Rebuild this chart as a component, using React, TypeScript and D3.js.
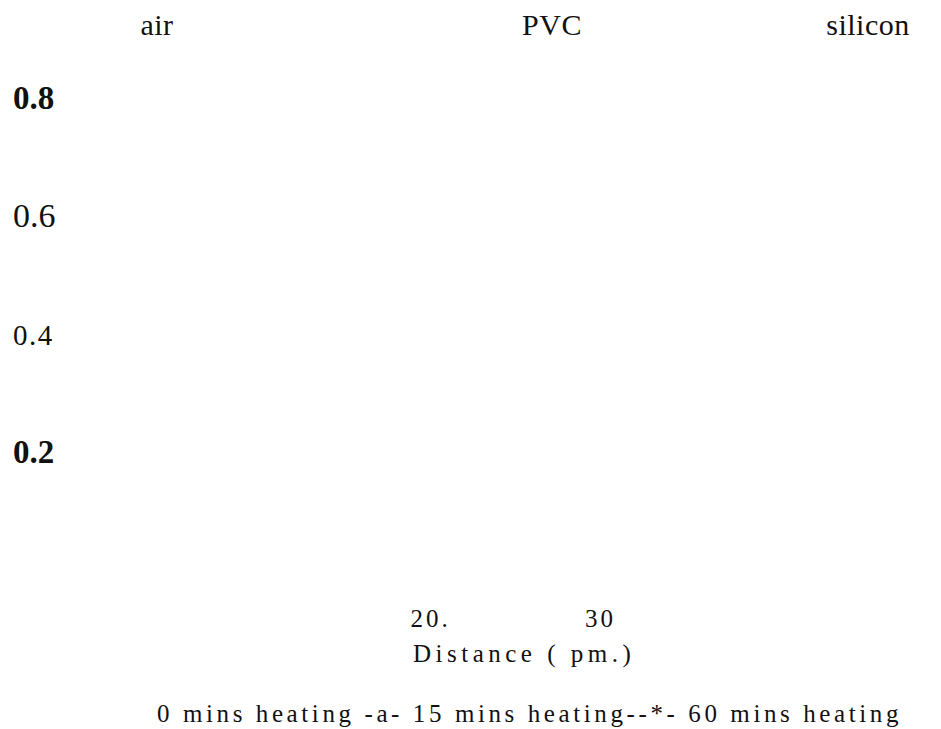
import React, { useEffect, useRef } from 'react';
import * as d3 from 'd3';

const width = 941;
const height = 729;

const materials = ['air', 'PVC', 'silicon'];
const xTicks = [20, 30];
const xTickLabels = ['20.', '30'];
const yTicks = [0.8, 0.6, 0.4, 0.2];
const yTickLabels = ['0.8', '0.6', '0.4', '0.2'];
const seriesNames = ['0 mins heating', '15 mins heating', '60 mins heating'];
const seriesMarkers = ['', '-a-', '--*-'];
const xTitle = 'Distance ( pm.)';

// the y tick labels come in mixed weights and sizes
const yTickStyles = [
  { weight: 'bold', size: 33, spacing: 0 },
  { weight: 'normal', size: 34, spacing: 0 },
  { weight: 'normal', size: 29, spacing: 1.5 },
  { weight: 'bold', size: 33, spacing: 0 },
];

const fontFamily = '"Liberation Serif", "DejaVu Serif", "Times New Roman", serif';
const ink = '#111';

const App = (): JSX.Element => {
  const container = useRef<HTMLDivElement>(null);

  useEffect(() => {
    const root = d3.select(container.current);
    root.selectAll('*').remove();

    const canvas = root
      .append('svg')
      .attr('width', width)
      .attr('height', height)
      .style('position', 'absolute')
      .style('left', 0)
      .style('top', 0)
      .style('background', '#fff');

    const xScale = d3.scaleLinear().domain([20, 30]).range([430, 600]);
    const yScale = d3.scaleLinear().domain([0.2, 0.8]).range([462, 108]);
    const materialScale = d3
      .scaleOrdinal<string, number>()
      .domain(materials)
      .range([157, 552, 868]);

    // panel headings
    canvas
      .append('g')
      .selectAll('text')
      .data(materials)
      .join('text')
      .attr('x', (d) => materialScale(d))
      .attr('y', 35)
      .attr('text-anchor', 'middle')
      .attr('font-family', fontFamily)
      .attr('font-size', 30)
      .attr('letter-spacing', 0.5)
      .attr('fill', ink)
      .text((d) => d);

    // y axis, labels only
    const yAxis = d3
      .axisLeft(yScale)
      .tickValues(yTicks)
      .tickSize(0)
      .tickFormat((d, i) => yTickLabels[i]);
    const gy = canvas.append('g').call(yAxis);
    gy.select('.domain').remove();
    gy.selectAll<SVGTextElement, number>('.tick text')
      .attr('x', 13)
      .attr('dy', 0)
      .attr('text-anchor', 'start')
      .attr('font-family', fontFamily)
      .attr('fill', ink)
      .attr('font-weight', (d, i) => yTickStyles[i].weight)
      .attr('font-size', (d, i) => yTickStyles[i].size)
      .attr('letter-spacing', (d, i) => yTickStyles[i].spacing);

    // x axis, labels only
    const xAxis = d3
      .axisBottom(xScale)
      .tickValues(xTicks)
      .tickSize(0)
      .tickFormat((d, i) => xTickLabels[i]);
    const gx = canvas.append('g').attr('transform', 'translate(0,627)').call(xAxis);
    gx.select('.domain').remove();
    gx.selectAll('.tick text')
      .attr('y', 0)
      .attr('dy', 0)
      .attr('font-family', fontFamily)
      .attr('font-size', 25)
      .attr('letter-spacing', 3)
      .attr('fill', ink);

    canvas
      .append('text')
      .attr('x', 413)
      .attr('y', 662)
      .attr('font-family', fontFamily)
      .attr('font-size', 25)
      .attr('letter-spacing', 4.5)
      .attr('fill', ink)
      .text(xTitle);

    // legend line as printed: names joined by their marker glyphs
    const legendText = seriesNames
      .map((name, i) => (i === 1 ? ' ' : '') + (seriesMarkers[i] ? seriesMarkers[i] + ' ' : '') + name)
      .join('');
    canvas
      .append('text')
      .attr('x', 157)
      .attr('y', 722)
      .attr('font-family', fontFamily)
      .attr('font-size', 25)
      .attr('letter-spacing', 3.6)
      .attr('fill', ink)
      .style('white-space', 'pre')
      .text(legendText);
  }, []);

  return <div className="chart" ref={container} />;
};

export default App;
